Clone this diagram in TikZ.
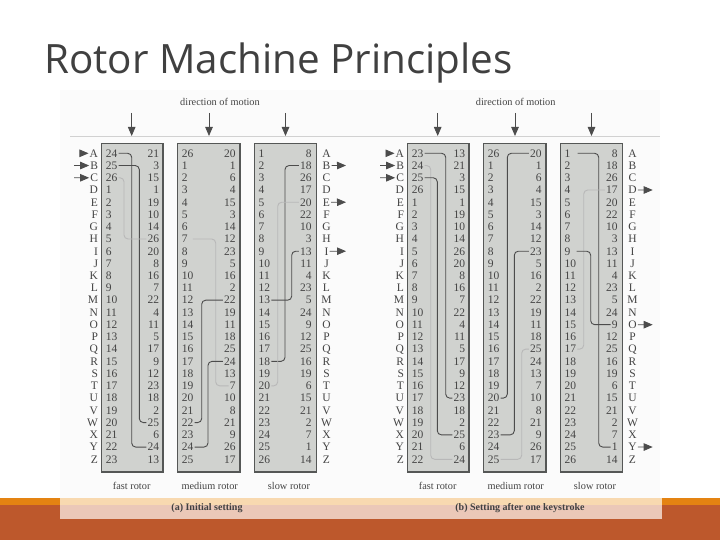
\documentclass[tikz,border=0pt]{standalone}
\usepackage{fontspec}
\setmainfont{Liberation Serif}
\newfontfamily\titlefont{Open Sans}
\usetikzlibrary{arrows.meta}
\definecolor{rotorfill}{HTML}{D0D2CF}
\definecolor{rotoredge}{HTML}{555756}
\definecolor{inktext}{HTML}{444444}
\definecolor{bandorange}{HTML}{E48312}
\definecolor{banddark}{HTML}{BD582C}
\definecolor{capa}{HTML}{F8D9B0}
\definecolor{capb}{HTML}{EBC8B8}
\definecolor{imgbg}{HTML}{FBFBFB}
\tikzset{
  num/.style={font=\fontsize{11.5}{13}\selectfont,text=inktext,inner sep=1pt,text height=7.6pt,text depth=0pt},
  rotorbox/.style={draw=rotoredge,fill=rotorfill,line width=1.3pt},
  darkwire/.style={draw=black!70,line width=0.9pt,rounded corners=4pt},
  lightwire/.style={draw=black!28,line width=0.9pt,rounded corners=4pt},
  flow/.style={-{Triangle[length=9pt,width=7.5pt]},draw=black!70,line width=0.8pt},
  caption/.style={font=\fontsize{10.3}{12}\selectfont,text=inktext,inner sep=0pt},
  capbold/.style={font=\fontsize{10}{12}\selectfont\bfseries,text=black!75,inner sep=0pt}
}
\newcommand{\ColList}[4]{%
  \edef\mylist{#4}%
  \foreach \v [count=\i] in \mylist {
    \node[num,anchor=#3] (#1\i) at (#2,{153.3+12.24*(\i-1)}) {\v};
  }}
\newcommand{\WireP}[4]{%
  \coordinate (v) at (#3,0);
  \draw[#1] (#2) -- (#2 -| v) -- (#4 -| v) -- (#4);}
\begin{document}
\begin{tikzpicture}[x=1pt,y=-1pt]
\useasboundingbox (0,0) rectangle (720,540);
\fill[white] (0,0) rectangle (720,540);
\fill[bandorange] (0,498) rectangle (720,505);
\fill[banddark] (0,505) rectangle (720,540);
\fill[imgbg] (60,90) rectangle (660,498);
\fill[capa] (60,498) rectangle (662,505);
\fill[capb] (60,505) rectangle (662,519);
\node[font=\titlefont\fontsize{40.4}{48}\selectfont,text=black!75,anchor=base west,inner sep=0pt] (title) at (44,74) {Rotor Machine Principles};
\draw[black!18,line width=0.7pt] (70,136.7) -- (660,136.7);
\foreach \off/\pfx/\fl/\fr/\dx in {
  0/a/{24,25,26,1,2,3,4,5,6,7,8,9,10,11,12,13,14,15,16,17,18,19,20,21,22,23}/{21,3,15,1,19,10,14,26,20,8,16,7,22,4,11,5,17,9,12,23,18,2,25,6,24,13}/220,
  306/b/{23,24,25,26,1,2,3,4,5,6,7,8,9,10,11,12,13,14,15,16,17,18,19,20,21,22}/{13,21,3,15,1,19,10,14,26,20,8,16,7,22,4,11,5,17,9,12,23,18,2,25,6,24}/515.7} {
  \begin{scope}[xshift=\off pt]
    \draw[rotorbox] (101.7,143.3) rectangle (163,472);
    \draw[rotorbox] (177.7,143.3) rectangle (240,472);
    \draw[rotorbox] (254.7,143.3) rectangle (316.7,472);
    \foreach \ax in {131.7,209,285.5} {
      \coordinate (top) at (\ax,113);
      \coordinate (bot) at (\ax,136);
      \draw[flow] (top) -- (bot);
    }
    \ColList{\pfx FL}{104.7}{west}{\fl}
    \ColList{\pfx FR}{160.3}{east}{\fr}
    \ColList{\pfx ML}{180.7}{west}{26,1,2,3,4,5,6,7,8,9,10,11,12,13,14,15,16,17,18,19,20,21,22,23,24,25}
    \ColList{\pfx MR}{236.7}{east}{20,1,6,4,15,3,14,12,23,5,16,2,22,19,11,18,25,24,13,7,10,8,21,9,26,17}
    \ColList{\pfx SL}{257.5}{west}{1,2,3,4,5,6,7,8,9,10,11,12,13,14,15,16,17,18,19,20,21,22,23,24,25,26}
    \ColList{\pfx SR}{312.7}{east}{8,18,26,17,20,22,10,3,13,11,4,23,5,24,9,12,25,16,19,6,15,21,2,7,1,14}
    \ColList{\pfx LL}{99.2}{east}{A,B,C,D,E,F,G,H,I,J,K,L,M,N,O,P,Q,R,S,T,U,V,W,X,Y,Z}
    \ColList{\pfx RL}{326.5}{center}{A,B,C,D,E,F,G,H,I,J,K,L,M,N,O,P,Q,R,S,T,U,V,W,X,Y,Z}
    \coordinate (ia) at (80,153.3);
    \coordinate (ib) at (74,165.5);
    \coordinate (ic) at (74,177.8);
    \draw[flow] (ia) -- (\pfx LL1.west);
    \draw[flow] (ib) -- (\pfx LL2.west);
    \draw[flow] (ic) -- (\pfx LL3.west);
    \node[caption] (\pfx cf) at (131.7,485.7) {fast rotor};
    \node[caption] (\pfx cm) at (209.7,485.7) {medium rotor};
    \node[caption] (\pfx cs) at (289,485.7) {slow rotor};
  \end{scope}
  \node[caption] (\pfx dm) at (\dx,101.5) {direction of motion};
}
\node[capbold] (capa) at (207,508) {(a) Initial setting};
\node[capbold] (capb) at (520,508) {(b) Setting after one keystroke};
% wires (a)
\WireP{darkwire}{aFL1.east}{131.7}{aFR25.west}
\WireP{darkwire}{aFL2.east}{139.3}{aFR23.west}
\WireP{lightwire}{aFL3.east}{124}{aFR8.west}
\WireP{lightwire,shorten <=4pt}{aML8.east}{215.7}{aMR20.west}
\WireP{darkwire}{aML23.east}{201.7}{aMR13.west}
\WireP{darkwire}{aML25.east}{208}{aMR18.west}
\WireP{darkwire}{aSR2.west}{285}{aSL18.east}
\WireP{lightwire}{aSR5.west}{277.7}{aSL20.east}
\WireP{darkwire}{aSR9.west}{291.7}{aSL13.east}
% wires (b)
\WireP{darkwire}{bFL1.east}{445.7}{bFR21.west}
\WireP{lightwire}{bFL2.east}{430.7}{bFR26.west}
\WireP{darkwire}{bFL3.east}{437.3}{bFR24.west}
\WireP{darkwire}{bMR1.west}{507.3}{bML21.east}
\WireP{darkwire}{bMR9.west}{514.3}{bML24.east}
\WireP{lightwire}{bMR17.west}{521.7}{bML26.east}
\WireP{darkwire,shorten <=6pt}{bSL1.east}{598.7}{bSR25.west}
\WireP{lightwire}{bSR4.west}{583.7}{bSL17.east}
\WireP{darkwire,shorten <=5pt}{bSL9.east}{590.7}{bSR15.west}
% output arrows
\coordinate (oab) at (346,165.5);
\coordinate (oae) at (346,202.2);
\coordinate (oai) at (346,251.2);
\draw[flow] (aRL2.east) -- (oab);
\draw[flow] (aRL5.east) -- (oae);
\draw[flow] (aRL9.east) -- (oai);
\coordinate (obd) at (652.7,190);
\coordinate (obo) at (652.7,324.7);
\coordinate (oby) at (652.7,447);
\draw[flow] (bRL4.east) -- (obd);
\draw[flow] (bRL15.east) -- (obo);
\draw[flow] (bRL25.east) -- (oby);
\end{tikzpicture}
\end{document}
